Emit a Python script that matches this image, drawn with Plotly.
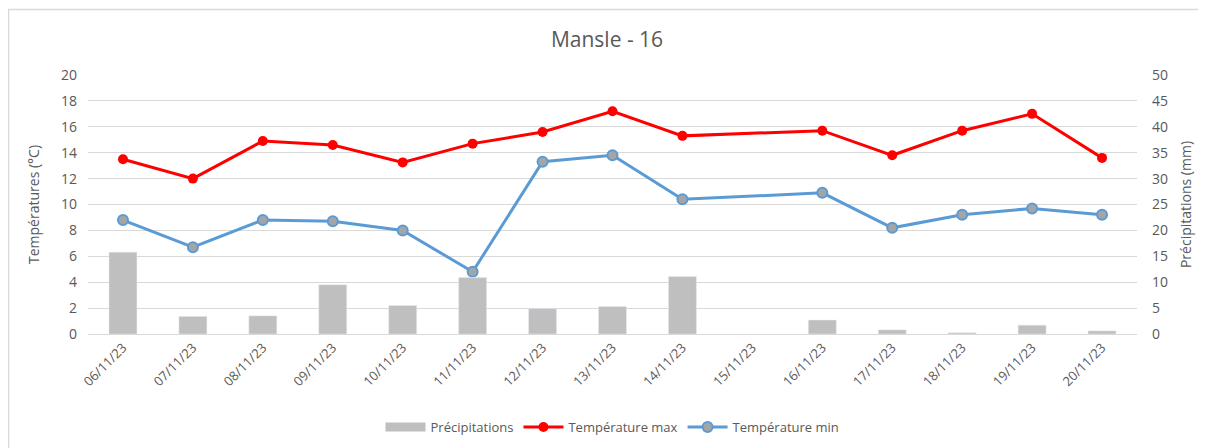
import plotly.graph_objects as go

dates = ["06/11/23", "07/11/23", "08/11/23", "09/11/23", "10/11/23", "11/11/23", "12/11/23",
         "13/11/23", "14/11/23", "15/11/23", "16/11/23", "17/11/23", "18/11/23", "19/11/23", "20/11/23"]
precip = [15.8, 3.4, 3.5, 9.5, 5.5, 10.9, 4.9, 5.3, 11.1, None, 2.7, 0.8, 0.25, 1.7, 0.6]
tmax = [13.5, 12.0, 14.9, 14.6, 13.25, 14.7, 15.6, 17.2, 15.3, None, 15.7, 13.8, 15.7, 17.0, 13.6]
tmin = [8.8, 6.7, 8.8, 8.7, 8.0, 4.8, 13.3, 13.8, 10.4, None, 10.9, 8.2, 9.2, 9.7, 9.2]

FONT = "Open Sans"
GREY = "#595959"
OFF = 8  # page body margin
W, H = 1206 - OFF, 448 - OFF
L, T = 88 - OFF, 75 - OFF
PW, PH = 1049, 259
R = W - L - PW
B = H - T - PH


def py(ref_y):
    return (T + PH - (ref_y - OFF)) / PH


def px(ref_x):
    return ((ref_x - OFF) - L) / PW


fig = go.Figure()
fig.add_trace(go.Bar(x=dates, y=precip, name="Précipitations", marker_color="#BFBFBF",
                     yaxis="y2", showlegend=False))
# legend swatch for the bars (wide rectangle like the original)
fig.add_trace(go.Scatter(x=[dates[0]], y=[None], name="Précipitations", mode="lines",
                         line=dict(color="#BFBFBF", width=9), yaxis="y2"))
fig.add_trace(go.Scatter(x=dates, y=tmax, name="Température max", mode="lines+markers",
                         connectgaps=True, line=dict(color="#FF0000", width=3),
                         marker=dict(size=10, color="#FF0000")))
fig.add_trace(go.Scatter(x=dates, y=tmin, name="Température min", mode="lines+markers",
                         connectgaps=True, line=dict(color="#5B9BD5", width=3),
                         marker=dict(size=10, color="#A5A5A5", line=dict(color="#5B9BD5", width=2))))

fig.update_layout(
    width=W, height=H,
    margin=dict(l=L, r=R, t=T, b=B, autoexpand=False),
    paper_bgcolor="white", plot_bgcolor="white",
    font=dict(family=FONT, color=GREY, size=13),
    title=dict(text="Mansle - 16", x=0.5, xanchor="center", y=1 - (40 - OFF) / H, yanchor="middle",
               font=dict(size=21, color=GREY, family=FONT)),
    bargap=0.6,
    showlegend=True,
    legend=dict(orientation="h", x=0.5, xanchor="center", y=py(427), yanchor="middle",
                font=dict(size=13, color=GREY), traceorder="normal", itemwidth=40),
    xaxis=dict(tickangle=-45, showgrid=False, showline=True, linecolor="#D9D9D9",
               tickfont=dict(size=13, color=GREY), ticks="", automargin=False,
               type="category", categoryorder="array", categoryarray=dates,
               range=[-0.5, len(dates) - 0.5]),
    yaxis=dict(range=[0, 20], dtick=2, showgrid=True, gridcolor="#D9D9D9",
               zeroline=False, tickfont=dict(size=14, color=GREY), automargin=False,
               ticklabelstandoff=10,
               title=dict(text="Températures (°C)", font=dict(size=14, color=GREY), standoff=18)),
    yaxis2=dict(range=[0, 50], dtick=5, overlaying="y", side="right", showgrid=False,
                zeroline=False, tickfont=dict(size=14, color=GREY), automargin=False,
                ticklabelstandoff=14,
                title=dict(text="Précipitations (mm)", font=dict(size=14, color=GREY), standoff=14)),
    shapes=[dict(type="rect", xref="paper", yref="paper",
                 x0=px(8.5), x1=px(1215), y0=py(460), y1=py(9.5),
                 line=dict(color="#D9D9D9", width=1.5), fillcolor="rgba(0,0,0,0)", layer="below")],
)

fig.write_html("out.html")
